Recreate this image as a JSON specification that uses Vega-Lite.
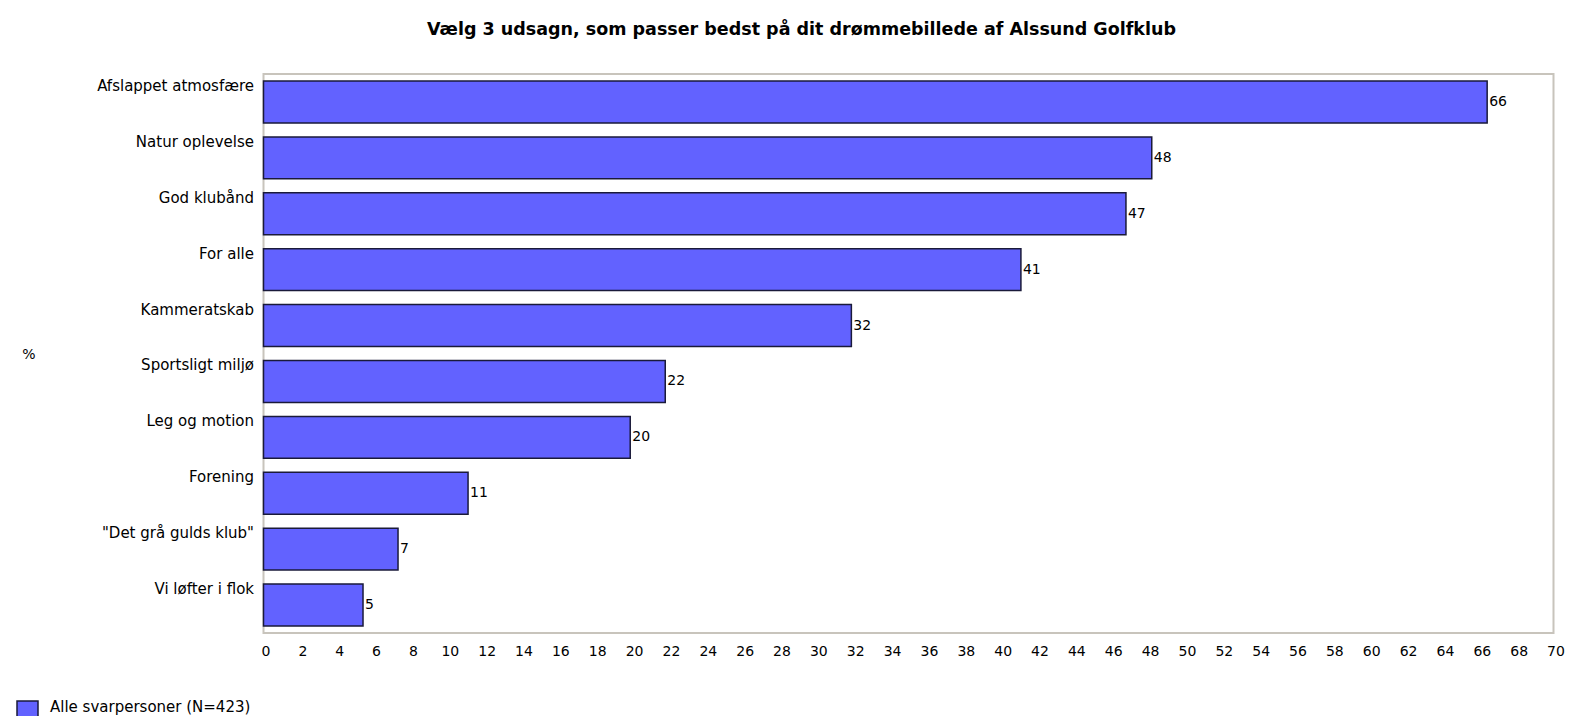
{
  "$schema": "https://vega.github.io/schema/vega-lite/v6.json",
  "width": 1290,
  "height": 559,
  "autosize": {"type": "none"},
  "padding": {"left": 263.5, "top": 74, "right": 27.5, "bottom": 83},
  "background": "white",
  "title": {
    "text": "Vælg 3 udsagn, som passer bedst på dit drømmebillede af Alssund Golfklub",
    "font": "DejaVu Sans",
    "fontSize": 17.5,
    "fontWeight": "bold",
    "color": "#000000",
    "anchor": "middle",
    "frame": "group",
    "dx": -107,
    "offset": 22,
    "baseline": "alphabetic"
  },
  "data": {
    "values": [
      {"udsagn": "Afslappet atmosfære", "pct": 66.4, "gruppe": "Alle svarpersoner (N=423)"},
      {"udsagn": "Natur oplevelse", "pct": 48.2, "gruppe": "Alle svarpersoner (N=423)"},
      {"udsagn": "God klubånd", "pct": 46.8, "gruppe": "Alle svarpersoner (N=423)"},
      {"udsagn": "For alle", "pct": 41.1, "gruppe": "Alle svarpersoner (N=423)"},
      {"udsagn": "Kammeratskab", "pct": 31.9, "gruppe": "Alle svarpersoner (N=423)"},
      {"udsagn": "Sportsligt miljø", "pct": 21.8, "gruppe": "Alle svarpersoner (N=423)"},
      {"udsagn": "Leg og motion", "pct": 19.9, "gruppe": "Alle svarpersoner (N=423)"},
      {"udsagn": "Forening", "pct": 11.1, "gruppe": "Alle svarpersoner (N=423)"},
      {"udsagn": "\"Det grå gulds klub\"", "pct": 7.3, "gruppe": "Alle svarpersoner (N=423)"},
      {"udsagn": "Vi løfter i flok", "pct": 5.4, "gruppe": "Alle svarpersoner (N=423)"}
    ]
  },
  "config": {
    "view": {"stroke": "#c8c4bc", "strokeWidth": 2},
    "font": "DejaVu Sans"
  },
  "encoding": {
    "y": {
      "field": "udsagn",
      "type": "nominal",
      "sort": null,
      "scale": {"paddingInner": 0.25, "paddingOuter": 0.125},
      "axis": {
        "title": "%",
        "titleAngle": 0,
        "titleX": -235,
        "titleY": 280,
        "titleAlign": "center",
        "titleBaseline": "middle",
        "titleFontSize": 14,
        "titleFontWeight": "normal",
        "titleColor": "#000000",
        "ticks": false,
        "domain": false,
        "labelPadding": 10,
        "labelOffset": -16,
        "labelFontSize": 15,
        "labelColor": "#000000",
        "labelLimit": 300,
        "labelBaseline": "middle"
      }
    },
    "x": {
      "field": "pct",
      "type": "quantitative",
      "scale": {"domain": [0, 70], "nice": false},
      "axis": {
        "title": null,
        "values": [0, 2, 4, 6, 8, 10, 12, 14, 16, 18, 20, 22, 24, 26, 28, 30, 32, 34, 36, 38, 40, 42, 44, 46, 48, 50, 52, 54, 56, 58, 60, 62, 64, 66, 68, 70],
        "format": "d",
        "ticks": false,
        "domain": false,
        "grid": false,
        "labelPadding": 11,
        "labelOffset": 2,
        "labelFontSize": 14,
        "labelColor": "#000000",
        "labelFlush": false,
        "labelOverlap": false
      }
    }
  },
  "layer": [
    {
      "mark": {"type": "bar", "stroke": "#1a1a3a", "strokeWidth": 1.5, "opacity": 1},
      "encoding": {
        "color": {
          "field": "gruppe",
          "type": "nominal",
          "scale": {"range": ["#6262ff"]},
          "legend": {
            "orient": "none",
            "legendX": -247.5,
            "legendY": 626,
            "title": null,
            "padding": 0,
            "symbolType": "square",
            "symbolSize": 441,
            "symbolStrokeColor": "#1a1a3a",
            "symbolStrokeWidth": 1.5,
            "symbolOpacity": 1,
            "labelFontSize": 15,
            "labelOffset": 11,
            "labelBaseline": "alphabetic",
            "labelColor": "#000000",
            "labelLimit": 400
          }
        }
      }
    },
    {
      "mark": {"type": "text", "align": "left", "baseline": "middle", "dx": 2, "fontSize": 14, "color": "#000000"},
      "encoding": {
        "text": {"field": "pct", "type": "quantitative", "format": ".0f"}
      }
    }
  ]
}
